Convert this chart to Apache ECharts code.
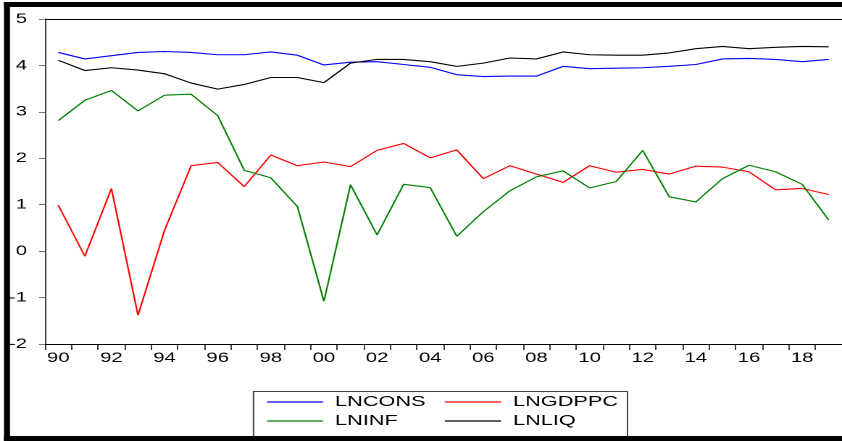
<!DOCTYPE html>
<html>
<head>
<meta charset="utf-8">
<script src="https://cdn.jsdelivr.net/npm/echarts@6/dist/echarts.min.js"></script>
<style>
  html, body { margin: 0; padding: 0; background: #fff; overflow: hidden; }
  /* The chart is laid out narrow and widened horizontally, giving the
     broad, stretched lettering of the exported EViews graph. */
  #chart { width: 581px; height: 441px; transform-origin: 0 0; transform: scaleX(1.4492); }
</style>
</head>
<body>
<div id="chart"></div>
<script>
// Years 1990-2019, labelled with two digits
const years = ['90','91','92','93','94','95','96','97','98','99',
               '00','01','02','03','04','05','06','07','08','09',
               '10','11','12','13','14','15','16','17','18','19'];

const lncons = [4.28, 4.14, 4.21, 4.28, 4.30, 4.28, 4.23, 4.23, 4.29, 4.22,
                4.01, 4.07, 4.08, 4.02, 3.96, 3.80, 3.76, 3.77, 3.77, 3.98,
                3.93, 3.94, 3.95, 3.98, 4.02, 4.14, 4.15, 4.13, 4.08, 4.13];

const lngdppc = [0.99, -0.11, 1.35, -1.38, 0.45, 1.84, 1.91, 1.39, 2.07, 1.84,
                 1.92, 1.82, 2.17, 2.32, 2.01, 2.18, 1.56, 1.84, 1.66, 1.48,
                 1.84, 1.70, 1.76, 1.66, 1.83, 1.81, 1.71, 1.32, 1.35, 1.22];

const lninf = [2.81, 3.25, 3.46, 3.02, 3.36, 3.38, 2.92, 1.74, 1.58, 0.96,
               -1.08, 1.43, 0.35, 1.44, 1.37, 0.32, 0.85, 1.30, 1.60, 1.73,
               1.36, 1.50, 2.17, 1.17, 1.06, 1.56, 1.85, 1.71, 1.44, 0.67];

const lnliq = [4.11, 3.89, 3.95, 3.90, 3.82, 3.62, 3.49, 3.59, 3.74, 3.74,
               3.63, 4.05, 4.13, 4.13, 4.08, 3.98, 4.05, 4.16, 4.14, 4.29,
               4.23, 4.22, 4.22, 4.27, 4.36, 4.41, 4.36, 4.39, 4.41, 4.40];

const yTicks = { min: -2, max: 5, step: 1 };

const font = 'Liberation Sans, Arial, sans-serif';
const SX = 1.4492;           // horizontal widening applied by CSS
const hx = v => v / SX;      // convert a screen-x distance into layout units

function line(name, data, color) {
  return {
    name: name,
    type: 'line',
    data: data,
    symbol: 'none',
    lineStyle: { color: color, width: 1.1 },
    itemStyle: { color: color },
    animation: false
  };
}

// legend keys are plain short strokes, laid out as two columns
const legendCommon = {
  orient: 'vertical',
  top: 394,
  padding: 0,
  icon: 'rect',
  itemWidth: hx(56),
  itemHeight: 1.2,
  itemGap: 3,
  textStyle: { fontFamily: font, fontSize: 15, color: '#000', padding: [0, 0, 0, hx(12) - 5], lineHeight: 16 }
};

const chart = echarts.init(document.getElementById('chart'), null, { renderer: 'canvas', devicePixelRatio: 2 });

chart.setOption({
  backgroundColor: '#fff',
  animation: false,
  grid: { left: hx(45), right: 0, top: 19, bottom: 97 },
  xAxis: [{
    type: 'category',
    data: years,
    boundaryGap: true,
    axisLine: { onZero: false, lineStyle: { color: '#000', width: 1 } },
    axisTick: { show: true, interval: 0, length: 6, lineStyle: { color: '#000', width: 0.75 } },
    axisLabel: { interval: 1, fontFamily: font, fontSize: 14, color: '#000', margin: 7 },
    splitLine: { show: false }
  }, {
    type: 'category',
    data: years,
    position: 'top',
    axisLine: { onZero: false, lineStyle: { color: '#000', width: 1 } },
    axisTick: { show: false },
    axisLabel: { show: false },
    splitLine: { show: false }
  }],
  yAxis: {
    type: 'value',
    min: yTicks.min,
    max: yTicks.max,
    interval: yTicks.step,
    axisLine: { show: true, onZero: false, lineStyle: { color: '#000', width: 0.75 } },
    axisTick: { show: true, length: hx(6), lineStyle: { color: '#777' } },
    axisLabel: { fontFamily: font, fontSize: 14, color: '#000', margin: hx(18) },
    splitLine: { show: false }
  },
  legend: [
    Object.assign({}, legendCommon, { left: hx(267), data: ['LNCONS', 'LNINF'] }),
    Object.assign({}, legendCommon, { left: hx(445), data: ['LNGDPPC', 'LNLIQ'] })
  ],
  series: [
    line('LNCONS', lncons, '#0000ff'),
    line('LNGDPPC', lngdppc, '#ff0000'),
    line('LNINF', lninf, '#008000'),
    line('LNLIQ', lnliq, '#000000')
  ],
  graphic: [
    // legend box
    { type: 'rect', shape: { x: hx(253.5), y: 391.5, width: hx(374), height: 50 },
      style: { fill: 'none', stroke: '#444', lineWidth: 1 }, z: 0 },
    // outer black frame: left, top and bottom bars
    { type: 'rect', shape: { x: hx(4), y: 2, width: hx(6), height: 439 }, style: { fill: '#000' }, z: 10 },
    { type: 'rect', shape: { x: hx(4), y: 2, width: 600, height: 5 }, style: { fill: '#000' }, z: 10 },
    { type: 'rect', shape: { x: hx(4), y: 436, width: 600, height: 5 }, style: { fill: '#000' }, z: 10 }
  ]
});
</script>
</body>
</html>
